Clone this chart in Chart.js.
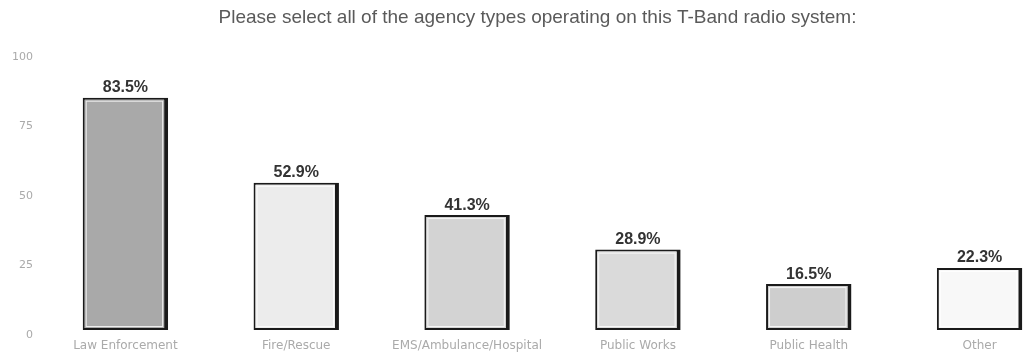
<!DOCTYPE html>
<html>
<head>
<meta charset="utf-8">
<script src="https://cdn.jsdelivr.net/npm/chart.js@4"></script>
<style>
  html, body { margin: 0; padding: 0; background: #fff; overflow: hidden; }
  #wrap { position: relative; width: 1090px; height: 356px; }
</style>
</head>
<body>
<div id="wrap"><canvas id="agencyChart"></canvas></div>
<script>
// --------------------
// Data
// --------------------
const categories = ["Law Enforcement", "Fire/Rescue", "EMS/Ambulance/Hospital", "Public Works", "Public Health", "Other"];
const percentages = [83.5, 52.9, 41.3, 28.9, 16.5, 22.3];
const barColors = ["#a9a9a9", "#ececec", "#d3d3d3", "#dadada", "#cecece", "#f8f8f8"];
const yTicks = [0, 25, 50, 75, 100];

// --------------------
// Value labels above bars + thin inner highlight
// --------------------
const valueLabels = {
  id: "valueLabels",
  afterDatasetsDraw(chart) {
    const ctx = chart.ctx;
    const meta = chart.getDatasetMeta(0);
    ctx.save();
    // inner white line, like the reference's bevel
    ctx.strokeStyle = "rgba(255,255,255,0.8)";
    ctx.lineWidth = 1;
    meta.data.forEach(bar => {
      const left = bar.x - bar.width / 2;
      ctx.strokeRect(left + 3.5, bar.y + 3.5, bar.width - 9, bar.base - bar.y - 7);
    });
    ctx.font = "bold 16px 'Liberation Sans', Arial, sans-serif";
    ctx.fillStyle = "#333";
    ctx.textAlign = "center";
    ctx.textBaseline = "bottom";
    meta.data.forEach((bar, i) => {
      ctx.fillText(percentages[i].toFixed(1) + "%", bar.x, bar.y - 2);
    });
    ctx.restore();
  }
};

new Chart(document.getElementById("agencyChart"), {
  type: "bar",
  data: {
    labels: categories,
    datasets: [{
      data: percentages,
      backgroundColor: barColors,
      borderColor: "#1a1a1a",
      borderWidth: { left: 2, top: 2, bottom: 2, right: 4 },
      borderSkipped: false,
      barPercentage: 0.5,
      categoryPercentage: 1
    }]
  },
  options: {
    responsive: true,
    maintainAspectRatio: false,
    animation: false,
    layout: { padding: { left: 10, right: 25, top: 0, bottom: 0 } },
    plugins: {
      legend: { display: false },
      tooltip: { enabled: false },
      title: {
        display: true,
        text: "Please select all of the agency types operating on this T-Band radio system:",
        color: "#5a5a5a",
        font: { family: "'Liberation Sans', Arial, sans-serif", size: 19, weight: "normal" },
        padding: { top: 6, bottom: 23 }
      }
    },
    scales: {
      x: {
        afterFit(axis) { axis.height = 26; },
        grid: { display: false, drawTicks: false },
        border: { display: false },
        ticks: {
          color: "#aaa",
          padding: 9,
          font: { family: "'DejaVu Sans', sans-serif", size: 12 }
        }
      },
      y: {
        min: 0,
        max: 100,
        afterFit(axis) { axis.width = 30; },
        afterBuildTicks(axis) { axis.ticks = yTicks.map(v => ({ value: v })); },
        grid: { display: false, drawTicks: false },
        border: { display: false },
        ticks: {
          color: "#aaa",
          padding: 7,
          labelOffset: 5,
          font: { family: "'DejaVu Sans', sans-serif", size: 11 }
        }
      }
    }
  },
  plugins: [valueLabels]
});
</script>
</body>
</html>
